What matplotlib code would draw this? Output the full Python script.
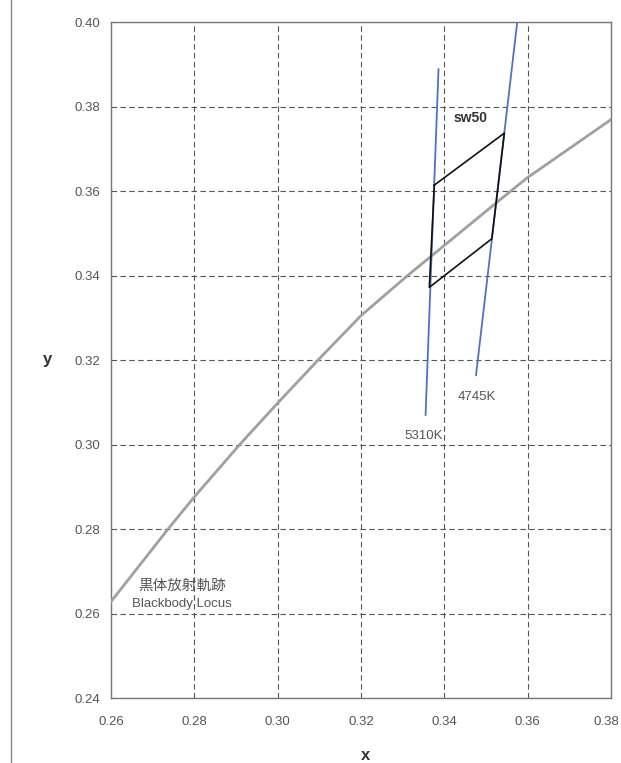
import numpy as np
import matplotlib
matplotlib.use('Agg')
import matplotlib.pyplot as plt
import matplotlib.transforms as mtransforms
from matplotlib.lines import Line2D

# Blackbody locus
locus_x = [0.26, 0.2737, 0.28, 0.2909, 0.30, 0.3097, 0.32, 0.3312, 0.3532, 0.36, 0.38]
locus_y = [0.2628, 0.28, 0.2876, 0.30, 0.3098, 0.32, 0.3305, 0.34, 0.3578, 0.3632, 0.3769]

# Isotemperature lines
iso_5310_x = [0.3355, 0.3386]
iso_5310_y = [0.3070, 0.3888]
iso_4745_x = [0.3476, 0.3575]
iso_4745_y = [0.3164, 0.4000]

# sw50 region
sw50_x = [0.3376, 0.3544, 0.3514, 0.3364, 0.3376]
sw50_y = [0.3614, 0.3737, 0.3487, 0.3372, 0.3614]

x_ticks = [0.26, 0.28, 0.30, 0.32, 0.34, 0.36, 0.38]
y_ticks = [0.24, 0.26, 0.28, 0.30, 0.32, 0.34, 0.36, 0.38, 0.40]

SANS = ['Liberation Sans', 'DejaVu Sans']
CJK = ['Noto Sans CJK JP', 'DejaVu Sans']

fig = plt.figure(figsize=(6.21, 7.63), dpi=100)
ax = fig.add_axes([111 / 621, 65 / 763, 500 / 621, 676 / 763])

ax.set_xlim(0.26, 0.38)
ax.set_ylim(0.24, 0.40)
ax.set_xticks(x_ticks)
ax.set_yticks(y_ticks)
ax.set_xticklabels([f'{v:.2f}' for v in x_ticks], family=SANS, fontsize=9.5, color='#555555')
ax.set_yticklabels([f'{v:.2f}' for v in y_ticks], family=SANS, fontsize=9.5, color='#555555')
ax.tick_params(axis='both', length=0)
ax.tick_params(axis='x', pad=13)
ax.tick_params(axis='y', pad=8)

# last x label sits right at the page edge; nudge it in a bit
last = ax.get_xticklabels()[-1]
last.set_transform(last.get_transform() + mtransforms.ScaledTranslation(-5 / 100, 0, fig.dpi_scale_trans))

ax.grid(True, color='#555555', linestyle=(0, (5, 3)), linewidth=0.8)
ax.set_axisbelow(True)
for s in ax.spines.values():
    s.set_color('#777777')
    s.set_linewidth(1.0)

# curves
ax.plot(locus_x, locus_y, color='#a0a0a0', linewidth=2.0, zorder=3)
ax.plot(iso_5310_x, iso_5310_y, color='#4f72c4', linewidth=1.3, zorder=3)
ax.plot(iso_4745_x, iso_4745_y, color='#4f72c4', linewidth=1.3, zorder=3)
ax.plot(sw50_x, sw50_y, color='#111111', linewidth=1.2, zorder=4)

# labels
ax.text(0.3464, 0.3773, 'sw50', family=SANS, fontweight='bold',
        fontsize=10, color='#333333', ha='center', va='center')
ax.text(0.3478, 0.3112, '4745K', family=SANS, fontsize=9.5, color='#555555', ha='center', va='center')
ax.text(0.3351, 0.3020, '5310K', family=SANS, fontsize=9.5, color='#555555', ha='center', va='center')
ax.text(0.2770, 0.2665, '黒体放射軌跡', family=CJK, fontsize=10.5, color='#555555', ha='center', va='center')
ax.text(0.2770, 0.2622, 'Blackbody Locus', family=SANS, fontsize=9.5, color='#555555', ha='center', va='center')

# axis titles
fig.text(366 / 621, 1 - 755 / 763, 'x', family=SANS, fontsize=12, fontweight='bold',
         color='#333333', ha='center', va='center')
fig.text(47 / 621, 1 - 360 / 763, 'y', family=SANS, fontsize=12, fontweight='bold',
         color='#333333', ha='center', va='center')

# page edge line on the left
fig.add_artist(Line2D([11 / 621, 11 / 621], [0, 1], transform=fig.transFigure, color='#888888', linewidth=1.0))

plt.savefig('out.png', dpi=100)
